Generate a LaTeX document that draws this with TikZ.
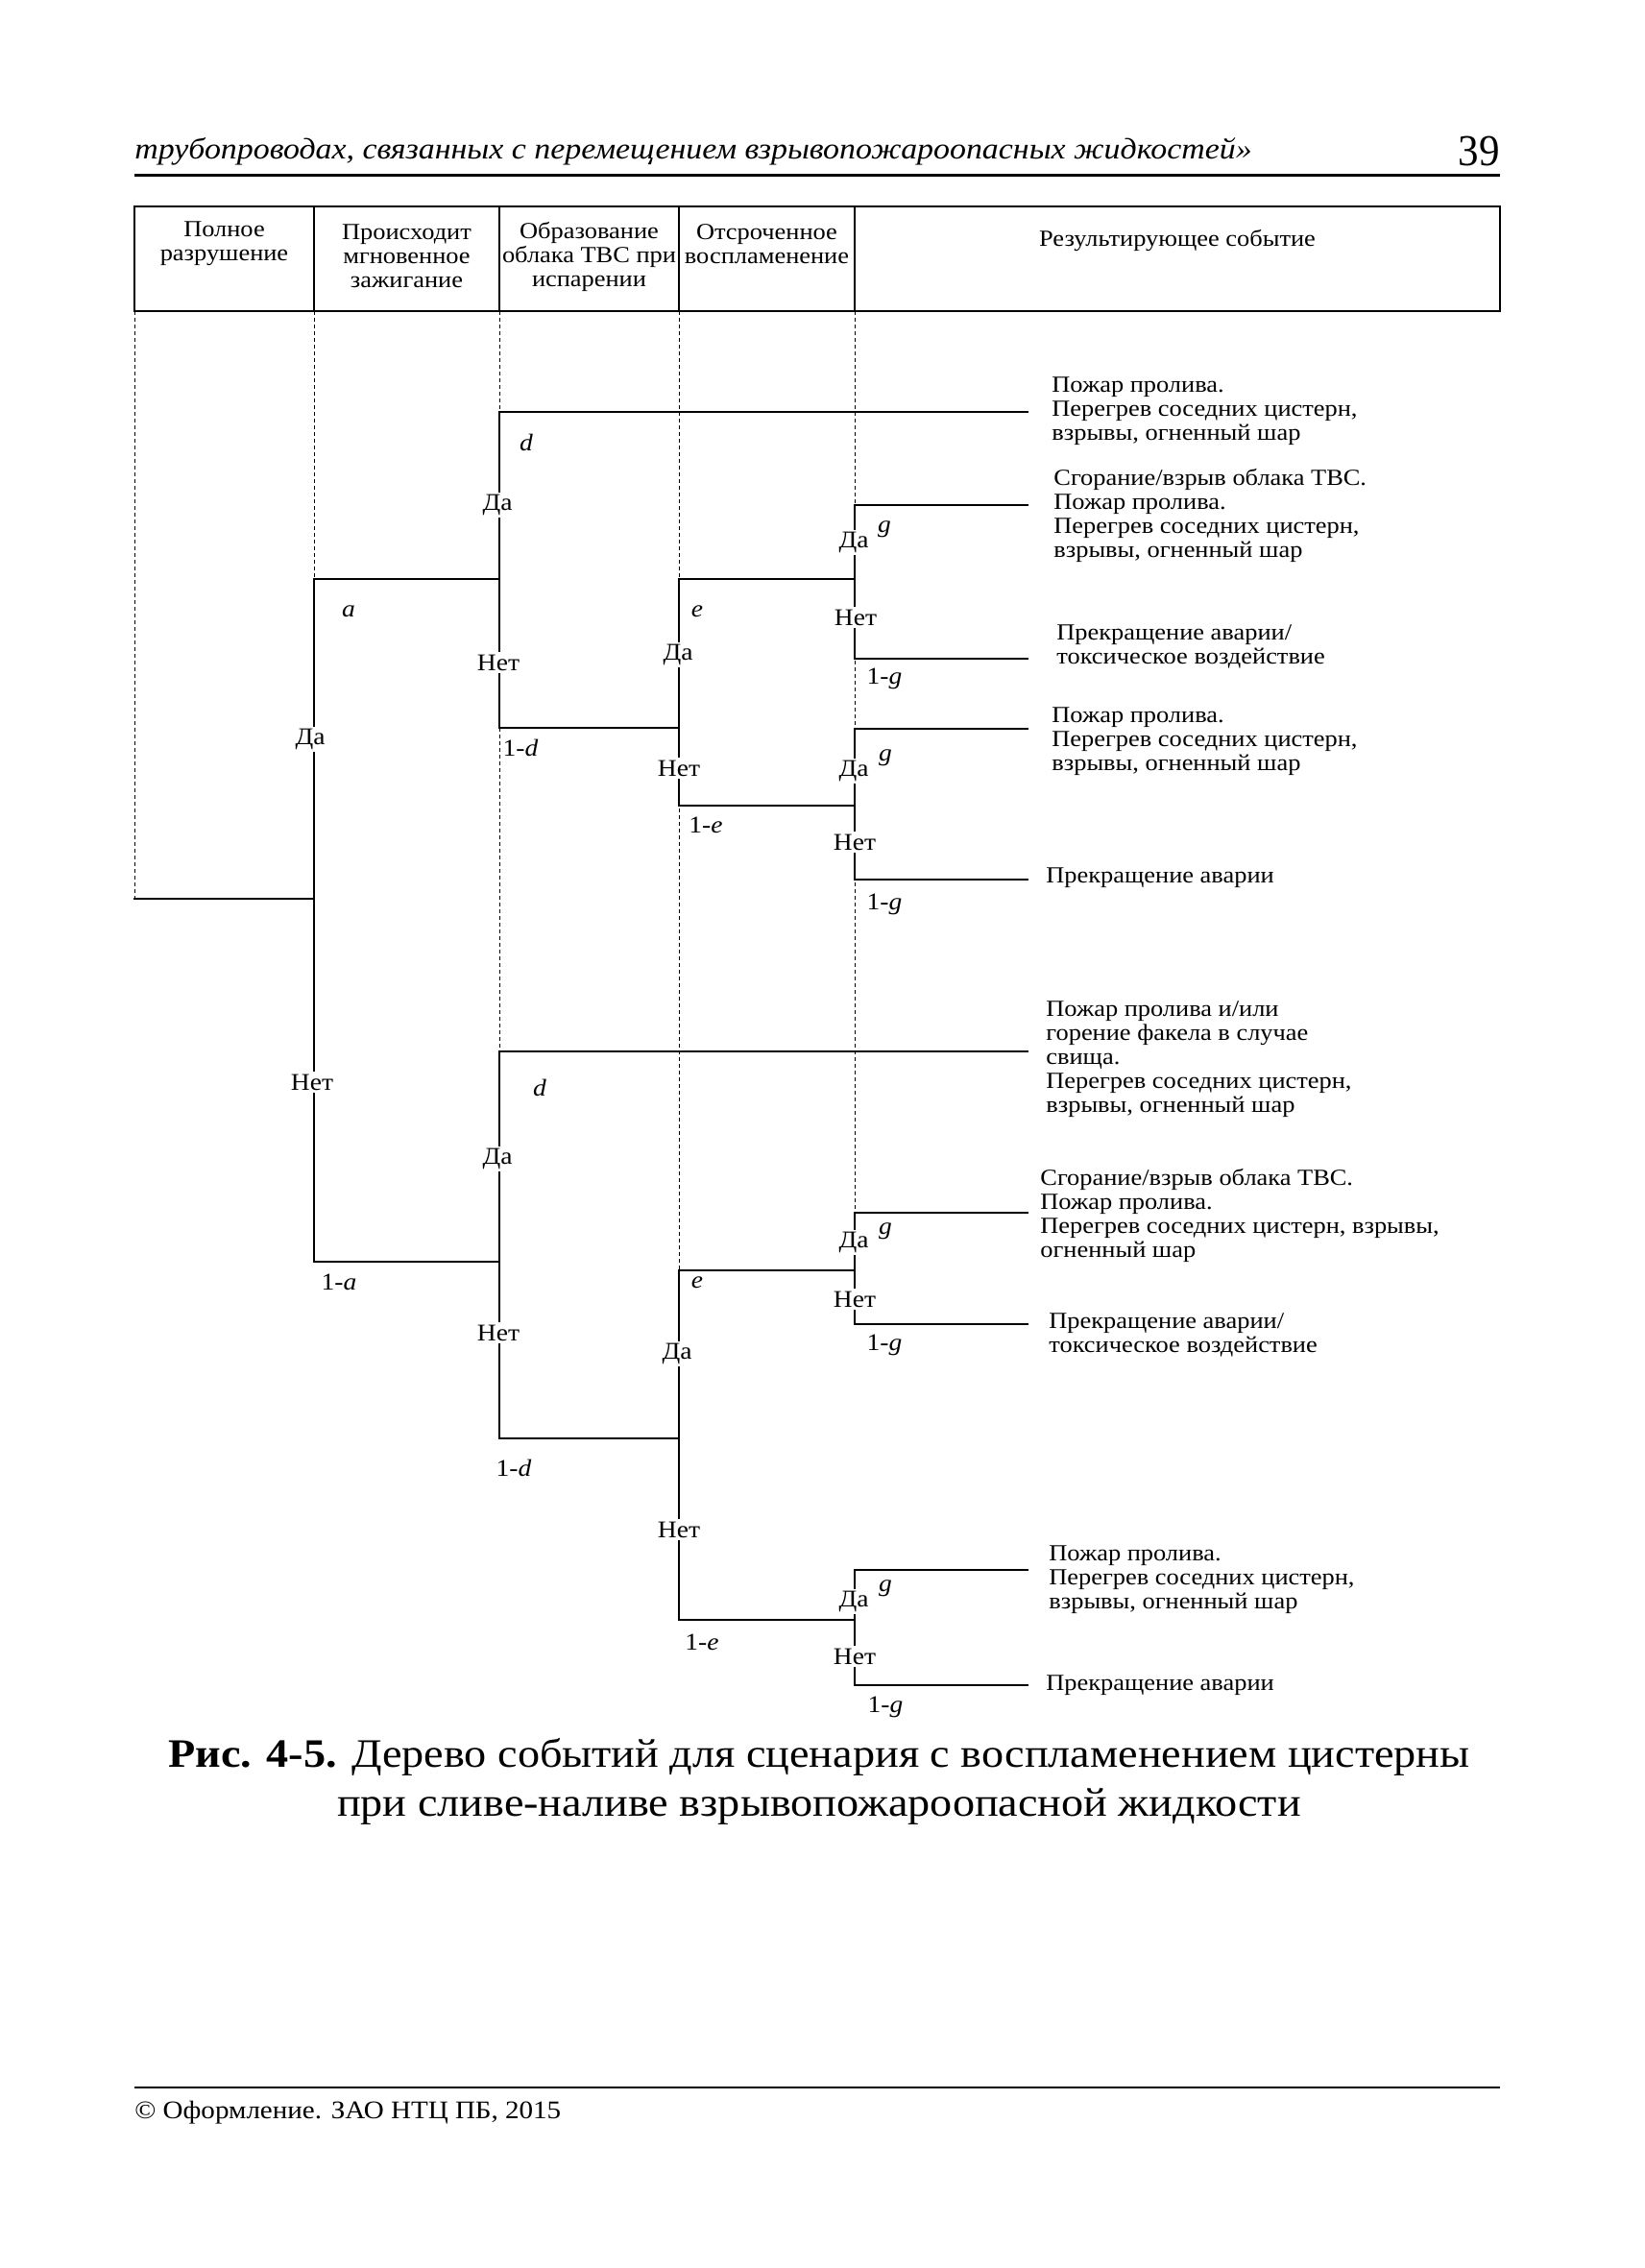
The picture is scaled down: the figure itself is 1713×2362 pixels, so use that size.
\documentclass[tikz,border=0pt]{standalone}
\usepackage{graphicx}
\usepackage{fontspec}
\setmainfont{Liberation Serif}[FakeStretch=1.1]
\begin{document}
\begin{tikzpicture}[x=0.5pt,y=-0.5pt,
  tree/.style={line width=1.15pt,line cap=rect},
  guide/.style={line width=0.45pt,dash pattern=on 2.2pt off 1.3pt},
  frame/.style={line width=1.2pt},
  lbl/.style={fill=white,inner sep=1.2pt,font=\fontsize{12.5}{13}\selectfont},
  prob/.style={inner sep=0pt,font=\fontsize{12.5}{13}\selectfont},
  res/.style={anchor=west,align=left,inner sep=0pt,font=\fontsize{12}{12.5}\selectfont},
  hdr/.style={align=center,inner sep=0pt,font=\fontsize{12}{12.5}\selectfont}]
\path[use as bounding box] (0,0) rectangle (1713,2362);
% page header
\node[anchor=west,inner sep=0pt,font=\fontsize{15.4}{16}\selectfont\itshape] (runhead) at (140,158) {трубопроводах, связанных с перемещением взрывопожароопасных жидкостей»};
\node[anchor=east,inner sep=0pt,font=\fontsize{23}{23}\selectfont] (pagenum) at (1562,157) {\scalebox{0.85}[1]{39}};
\draw[line width=1.5pt] (140,182) -- (1562,182);
% table header
\draw[frame] (140,215) rectangle (1562,324);
\foreach \cx in {327,520,707,890} \draw[line width=0.9pt] (\cx,215) -- (\cx,324);
\node[hdr] (h1) at (233.5,254) {Полное\\разрушение};
\node[hdr] (h2) at (423.5,267) {Происходит\\мгновенное\\зажигание};
\node[hdr] (h3) at (613.5,267) {Образование\\облака ТВС при\\испарении};
\node[hdr] (h4) at (798.5,254) {Отсроченное\\воспламенение};
\node[hdr] (h5) at (1226,250) {Результирующее событие};
% guide lines
\draw[guide] (140,324) -- (140,936);
\draw[guide] (327,324) -- (327,603);
\draw[guide] (520,324) -- (520,1095);
\draw[guide] (707,324) -- (707,1323);
\draw[guide] (890,324) -- (890,1263);
% coordinates
\coordinate (R) at (140,936);
\coordinate (A) at (327,936); \coordinate (Ay) at (327,603); \coordinate (An) at (327,1314);
\coordinate (D1) at (520,603); \coordinate (D1y) at (520,429); \coordinate (D1n) at (520,758);
\coordinate (E1) at (707,758); \coordinate (E1y) at (707,603); \coordinate (E1n) at (707,839);
\coordinate (G1) at (890,603); \coordinate (G1y) at (890,526); \coordinate (G1n) at (890,686);
\coordinate (G2) at (890,839); \coordinate (G2y) at (890,759); \coordinate (G2n) at (890,916);
\coordinate (D2) at (520,1314); \coordinate (D2y) at (520,1095); \coordinate (D2n) at (520,1498);
\coordinate (E2) at (707,1498); \coordinate (E2y) at (707,1323); \coordinate (E2n) at (707,1687);
\coordinate (G3) at (890,1323); \coordinate (G3y) at (890,1263); \coordinate (G3n) at (890,1379);
\coordinate (G4) at (890,1687); \coordinate (G4y) at (890,1635); \coordinate (G4n) at (890,1755);
\coordinate (X1) at (1070,429); \coordinate (X2) at (1070,526); \coordinate (X3) at (1070,686);
\coordinate (X4) at (1070,759); \coordinate (X5) at (1070,916); \coordinate (X6) at (1070,1095);
\coordinate (X7) at (1070,1263); \coordinate (X8) at (1070,1379); \coordinate (X9) at (1070,1635);
\coordinate (X10) at (1070,1755);
% tree
\draw[tree] (R) -- (A);
\draw[tree] (Ay) -- (An);
\draw[tree] (Ay) -- (D1);
\draw[tree] (X1) -- (D1y) -- (D1n) -- (E1);
\draw[tree] (E1y) -- (E1n);
\draw[tree] (E1y) -- (G1);
\draw[tree] (X2) -- (G1y) -- (G1n) -- (X3);
\draw[tree] (E1n) -- (G2);
\draw[tree] (X4) -- (G2y) -- (G2n) -- (X5);
\draw[tree] (An) -- (D2);
\draw[tree] (X6) -- (D2y) -- (D2n) -- (E2);
\draw[tree] (E2y) -- (E2n);
\draw[tree] (E2y) -- (G3);
\draw[tree] (X7) -- (G3y) -- (G3n) -- (X8);
\draw[tree] (E2n) -- (G4);
\draw[tree] (X9) -- (G4y) -- (G4n) -- (X10);
% yes/no labels
\node[lbl] (l1y) at (323,770) {Да};
\node[lbl] (l1n) at (325,1127) {Нет};
\node[lbl] (l2y) at (518,526) {Да};
\node[lbl] (l2n) at (519,690) {Нет};
\node[lbl] (l3y) at (706,682) {Да};
\node[lbl] (l3n) at (707,800) {Нет};
\node[lbl] (l4y) at (889,565) {Да};
\node[lbl] (l4n) at (891,643) {Нет};
\node[lbl] (l5y) at (889,803) {Да};
\node[lbl] (l5n) at (890,877) {Нет};
\node[lbl] (l6y) at (518,1207) {Да};
\node[lbl] (l6n) at (519,1388) {Нет};
\node[lbl] (l7y) at (705,1410) {Да};
\node[lbl] (l7n) at (707,1593) {Нет};
\node[lbl] (l8y) at (889,1294) {Да};
\node[lbl] (l8n) at (890,1353) {Нет};
\node[lbl] (l9y) at (889,1668) {Да};
\node[lbl] (l9n) at (890,1725) {Нет};
% probabilities
\node[prob] (pa) at (363,637) {\textit{a}};
\node[prob] (pna) at (353,1335) {1-\textit{a}};
\node[prob] (pd1) at (548,461) {\textit{d}};
\node[prob] (pnd1) at (542,779) {1-\textit{d}};
\node[prob] (pe1) at (726,637) {\textit{e}};
\node[prob] (pne1) at (735,859) {1-\textit{e}};
\node[prob] (pg1) at (921,551) {\textit{g}};
\node[prob] (png1) at (921,707) {1-\textit{g}};
\node[prob] (pg2) at (922,789) {\textit{g}};
\node[prob] (png2) at (921,942) {1-\textit{g}};
\node[prob] (pd2) at (562,1133) {\textit{d}};
\node[prob] (pnd2) at (535,1529) {1-\textit{d}};
\node[prob] (pe2) at (726,1336) {\textit{e}};
\node[prob] (pne2) at (731,1710) {1-\textit{e}};
\node[prob] (pg3) at (922,1282) {\textit{g}};
\node[prob] (png3) at (921,1401) {1-\textit{g}};
\node[prob] (pg4) at (922,1654) {\textit{g}};
\node[prob] (png4) at (922,1778) {1-\textit{g}};
% results
\node[res] (t1) at (1095,428.5) {Пожар пролива.\\Перегрев соседних цистерн,\\взрывы, огненный шар};
\node[res] (t2) at (1097,536.5) {Сгорание/взрыв облака ТВС.\\Пожар пролива.\\Перегрев соседних цистерн,\\взрывы, огненный шар};
\node[res] (t3) at (1100,673) {Прекращение аварии/\\токсическое воздействие};
\node[res] (t4) at (1095,772) {Пожар пролива.\\Перегрев соседних цистерн,\\взрывы, огненный шар};
\node[res] (t5) at (1089,914) {Прекращение аварии};
\node[res] (t6) at (1089,1103) {Пожар пролива и/или\\горение факела в случае\\свища.\\Перегрев соседних цистерн,\\взрывы, огненный шар};
\node[res] (t7) at (1083,1265.5) {Сгорание/взрыв облака ТВС.\\Пожар пролива.\\Перегрев соседних цистерн, взрывы,\\огненный шар};
\node[res] (t8) at (1092,1390) {Прекращение аварии/\\токсическое воздействие};
\node[res] (t9) at (1092,1645.5) {Пожар пролива.\\Перегрев соседних цистерн,\\взрывы, огненный шар};
\node[res] (t10) at (1089,1755) {Прекращение аварии};
% caption
\node[align=center,inner sep=0pt,font=\fontsize{21}{25.5}\selectfont] (cap) at (853,1855) {\textbf{Рис. 4-5.} Дерево событий для сценария с воспламенением цистерны\\при сливе-наливе взрывопожароопасной жидкости};
% footer
\draw[line width=1.2pt] (140,2174) -- (1562,2174);
\node[anchor=west,inner sep=0pt,font=\fontsize{13.2}{13.2}\selectfont] (foot) at (140,2200) {© Оформление. ЗАО НТЦ ПБ, 2015};
\end{tikzpicture}
\end{document}
